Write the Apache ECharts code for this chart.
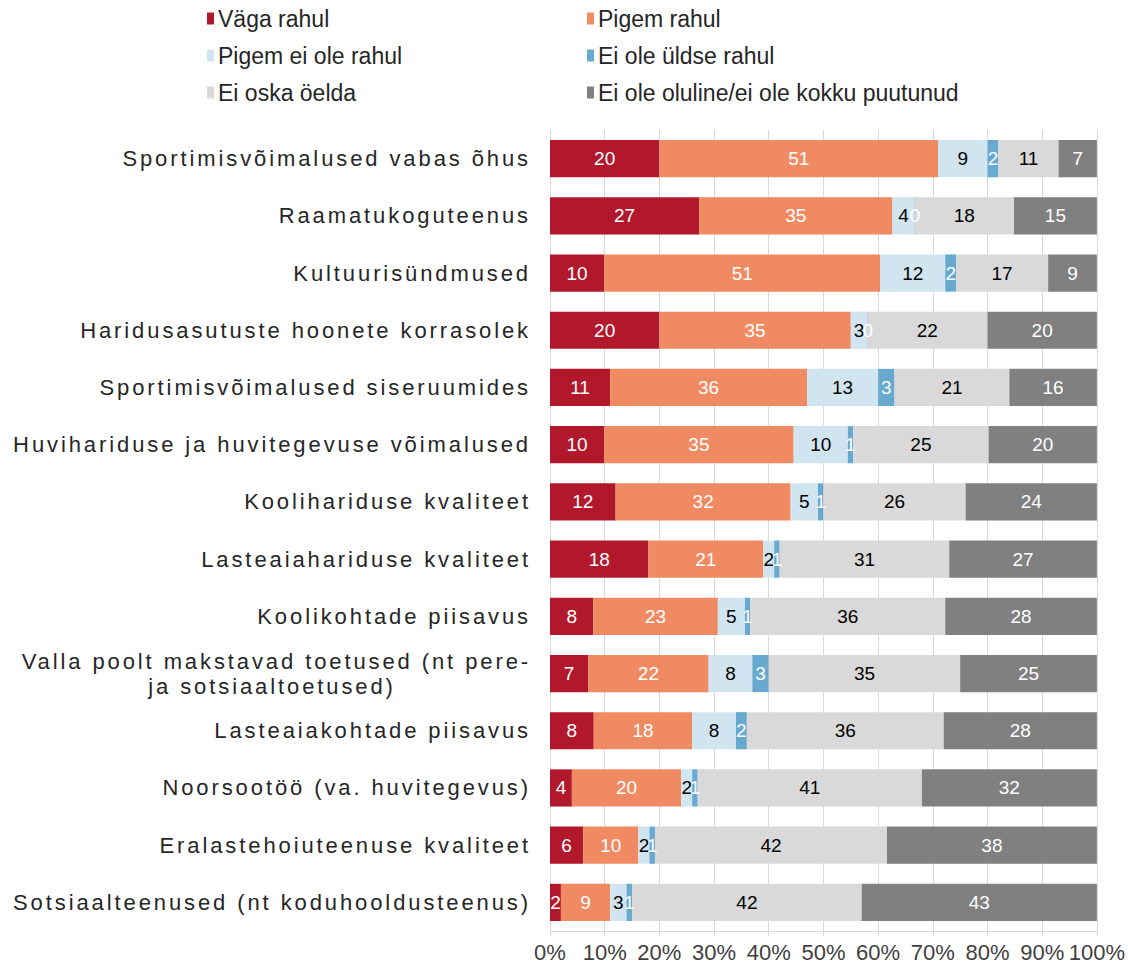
<!DOCTYPE html>
<html>
<head>
<meta charset="utf-8">
<script src="https://cdn.jsdelivr.net/npm/echarts@6/dist/echarts.min.js"></script>
<style>
  html, body { margin: 0; padding: 0; background: #fff; }
  #main { width: 1128px; height: 973px; }
  /* kategooriate nimed on hõredama kirjaga */
  #main text[text-anchor="end"] { letter-spacing: 2.9px; }
</style>
</head>
<body>
<div id="main"></div>
<script>
var categories = [
  "Sportimisvõimalused vabas õhus",
  "Raamatukoguteenus",
  "Kultuurisündmused",
  "Haridusasutuste hoonete korrasolek",
  "Sportimisvõimalused siseruumides",
  "Huvihariduse ja huvitegevuse võimalused",
  "Koolihariduse kvaliteet",
  "Lasteaiahariduse kvaliteet",
  "Koolikohtade piisavus",
  "Valla poolt makstavad toetused (nt pere-\nja sotsiaaltoetused)\u00a0\u00a0\u00a0\u00a0\u00a0\u00a0\u00a0\u00a0\u00a0\u00a0\u00a0\u00a0\u00a0\u00a0\u00a0",
  "Lasteaiakohtade piisavus",
  "Noorsootöö (va. huvitegevus)",
  "Eralastehoiuteenuse kvaliteet",
  "Sotsiaalteenused (nt koduhooldusteenus)"
];
var seriesNames = ["Väga rahul", "Pigem rahul", "Pigem ei ole rahul", "Ei ole üldse rahul", "Ei oska öelda", "Ei ole oluline/ei ole kokku puutunud"];
var vagaRahul  = [20, 27, 10, 20, 11, 10, 12, 18, 8, 7, 8, 4, 6, 2];
var pigemRahul = [51, 35, 51, 35, 36, 35, 32, 21, 23, 22, 18, 20, 10, 9];
var pigemEiOle = [9, 4, 12, 3, 13, 10, 5, 2, 5, 8, 8, 2, 2, 3];
var eiOleUldse = [2, 0, 2, 0, 3, 1, 1, 1, 1, 3, 2, 1, 1, 1];
var eiOska     = [11, 18, 17, 22, 21, 25, 26, 31, 36, 35, 36, 41, 42, 42];
var eiOluline  = [7, 15, 9, 20, 16, 20, 24, 27, 28, 25, 28, 32, 38, 43];
var xTicks = [0, 10, 20, 30, 40, 50, 60, 70, 80, 90, 100];

var colors = ['#b2182b', '#ef8a62', '#d1e5f0', '#67a9cf', '#d9d9d9', '#808080'];
var labelColors = ['#fff', '#fff', '#000', '#fff', '#000', '#fff'];
var allData = [vagaRahul, pigemRahul, pigemEiOle, eiOleUldse, eiOska, eiOluline];

// rea summa, et tulbad ulatuks 100%-ni
var rowSum = categories.map(function(c, i){
  var s = 0;
  allData.forEach(function(d){ s += d[i]; });
  return s;
});

var legendPos = [[202, 2], [582, 2], [202, 39], [582, 39], [202, 76], [582, 76]];

var myChart = echarts.init(document.getElementById('main'), null, {renderer: 'svg'});

var option = {
  animation: false,
  color: colors,
  legend: seriesNames.map(function(n, i){
    return {
      data: [n],
      left: legendPos[i][0],
      top: legendPos[i][1],
      icon: 'rect',
      itemWidth: 7,
      itemHeight: 12,
      selectedMode: false,
      textStyle: {
        fontFamily: 'Liberation Sans, Arial',
        fontSize: 23,
        color: '#262626',
        padding: [0, 0, 0, -1]
      }
    };
  }),
  grid: {
    left: 550,
    right: 30,
    top: 130,
    bottom: 42
  },
  xAxis: {
    type: 'value',
    min: 0,
    max: 100,
    interval: 10,
    axisLine: { show: true, lineStyle: { color: '#d9d9d9' } },
    axisTick: { show: true, length: 5, lineStyle: { color: '#d9d9d9' } },
    splitLine: { show: true, lineStyle: { color: '#d9d9d9', width: 1 } },
    axisLabel: {
      fontFamily: 'Liberation Sans, Arial',
      fontSize: 22,
      color: '#404040',
      margin: 10,
      formatter: function(v){ return xTicks.indexOf(v) >= 0 ? v + '%' : ''; }
    }
  },
  yAxis: {
    type: 'category',
    inverse: true,
    data: categories,
    axisLine: { show: true, lineStyle: { color: '#d9d9d9' } },
    axisTick: { show: false },
    axisLabel: {
      fontFamily: 'Liberation Sans, Arial',
      fontSize: 22,
      color: '#262626',
      margin: 19,
      lineHeight: 25,
      interval: 0
    }
  },
  series: seriesNames.map(function(n, k){
    return {
      name: n,
      type: 'bar',
      stack: 'koos',
      barWidth: '65%',
      barMinHeight: k === 3 ? 1 : 0,
      data: allData[k].map(function(v, i){ return v / rowSum[i] * 100; }),
      label: {
        show: true,
        position: 'inside',
        fontFamily: 'Liberation Sans, Arial',
        fontSize: 19,
        color: labelColors[k],
        formatter: function(p){ return allData[k][p.dataIndex]; }
      }
    };
  })
};

myChart.setOption(option);
</script>
</body>
</html>
